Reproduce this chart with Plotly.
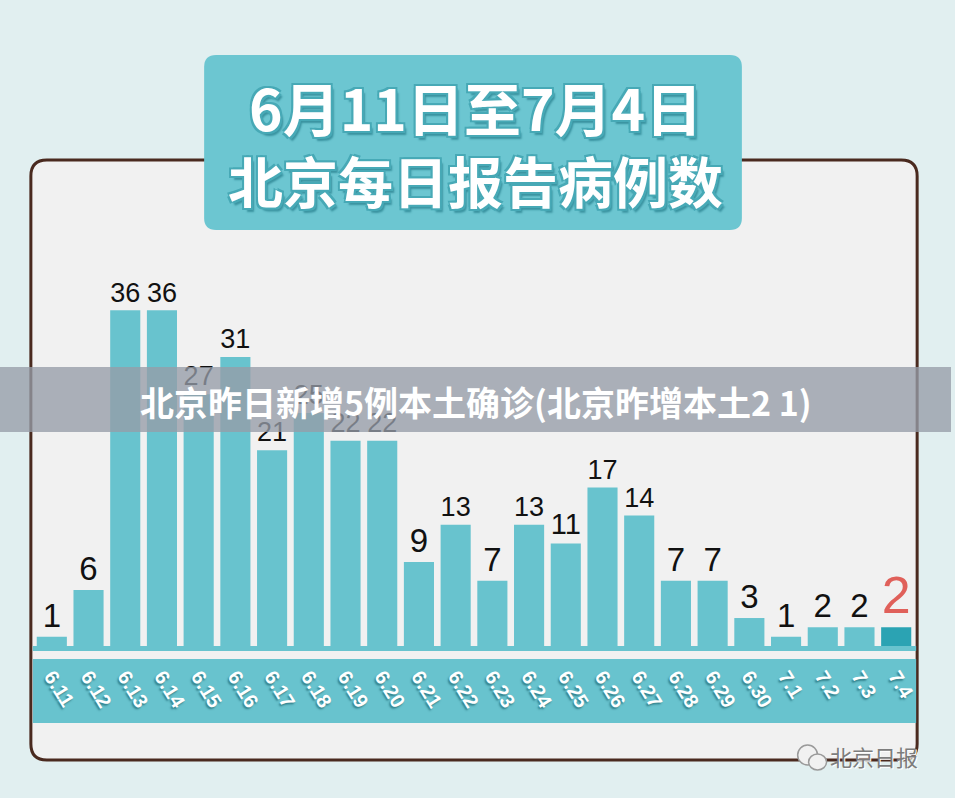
import plotly.graph_objects as go

# 北京每日报告病例数 6.11 - 7.4
dates = ["6.11", "6.12", "6.13", "6.14", "6.15", "6.16", "6.17", "6.18",
         "6.19", "6.20", "6.21", "6.22", "6.23", "6.24", "6.25", "6.26",
         "6.27", "6.28", "6.29", "6.30", "7.1", "7.2", "7.3", "7.4"]
cases = [1, 6, 36, 36, 27, 31, 21, 25, 22, 22, 9, 13, 7, 13, 11, 17,
         14, 7, 7, 3, 1, 2, 2, 2]

title1 = "6月11日至7月4日"
title2 = "北京每日报告病例数"
banner = "北京昨日新增5例本土确诊(北京昨增本土2 1)"
source = "北京日报"

W, H = 955, 798
teal = "#68c3ce"


def px(x):
    return x / W


def py(y):
    return 1 - y / H


def rrect(x0, y0, x1, y1, r):
    # rounded rectangle path in paper coords, given pixel box
    p = "M %f,%f " % (px(x0 + r), py(y0))
    p += "L %f,%f " % (px(x1 - r), py(y0))
    p += "Q %f,%f %f,%f " % (px(x1), py(y0), px(x1), py(y0 + r))
    p += "L %f,%f " % (px(x1), py(y1 - r))
    p += "Q %f,%f %f,%f " % (px(x1), py(y1), px(x1 - r), py(y1))
    p += "L %f,%f " % (px(x0 + r), py(y1))
    p += "Q %f,%f %f,%f " % (px(x0), py(y1), px(x0), py(y1 - r))
    p += "L %f,%f " % (px(x0), py(y0 + r))
    p += "Q %f,%f %f,%f Z" % (px(x0), py(y0), px(x0 + r), py(y0))
    return p


colors = [teal] * (len(cases) - 1) + ["#2ba3b3"]
txt_colors = ["#111111"] * (len(cases) - 1) + ["#e0605a"]
txt_sizes = [33] * (len(cases) - 1) + [52]

fig = go.Figure()
fig.add_trace(go.Bar(x=dates, y=cases, text=[str(v) for v in cases],
                     textposition="outside", cliponaxis=False,
                     marker=dict(color=colors, line=dict(width=0)),
                     textfont=dict(color=txt_colors, size=txt_sizes,
                                   family="Liberation Sans, Arial"),
                     width=0.82, hoverinfo="x+y"))

shapes = []
# panel
shapes.append(dict(type="path", path=rrect(31, 160, 921, 760, 16), xref="paper", yref="paper",
                   fillcolor="#f1f1f1", line=dict(color="#4a2a1f", width=3), layer="below"))
# title box
shapes.append(dict(type="path", path=rrect(205, 55, 745, 230, 12), xref="paper", yref="paper",
                   fillcolor="#6cc6d1", line=dict(width=0), layer="below"))
# baseline strip and date band
shapes.append(dict(type="rect", x0=px(33), x1=px(920), y0=py(646), y1=py(651), xref="paper", yref="paper",
                   fillcolor=teal, line=dict(width=0), layer="below"))
shapes.append(dict(type="rect", x0=px(33), x1=px(920), y0=py(659), y1=py(723), xref="paper", yref="paper",
                   fillcolor=teal, line=dict(width=0), layer="below"))
# wechat-like logo next to the source
shapes.append(dict(type="circle", x0=px(801), x1=px(821), y0=py(745), y1=py(765), xref="paper", yref="paper",
                   fillcolor="#f1f1f1", line=dict(color="#9a9a9a", width=1.5), layer="below"))
shapes.append(dict(type="circle", x0=px(812), x1=px(830), y0=py(754), y1=py(770), xref="paper", yref="paper",
                   fillcolor="#f1f1f1", line=dict(color="#9a9a9a", width=1.5), layer="below"))
# grey banner across the middle
shapes.append(dict(type="rect", x0=0, x1=1, y0=py(367), y1=py(432), xref="paper", yref="paper",
                   fillcolor="rgba(150,156,168,0.78)", line=dict(width=0), layer="above"))

title_shadow = ("-2px -2px 0 #47a9b6, 2px -2px 0 #47a9b6, -2px 2px 0 #47a9b6, "
                "2px 2px 0 #47a9b6, 3px 4px 2px #3a93a0")
annotations = [
    dict(text=title1, x=0.5, y=py(106), xref="paper", yref="paper", showarrow=False,
         xanchor="center", yanchor="middle",
         font=dict(family="Noto Sans CJK SC", size=57, color="white", weight="bold",
                   shadow=title_shadow)),
    dict(text=title2, x=0.5, y=py(179), xref="paper", yref="paper", showarrow=False,
         xanchor="center", yanchor="middle",
         font=dict(family="Noto Sans CJK SC", size=55, color="white", weight="bold",
                   shadow=title_shadow)),
    dict(text=banner, x=px(478), y=py(401), xref="paper", yref="paper", showarrow=False,
         xanchor="center", yanchor="middle",
         font=dict(family="Noto Sans CJK SC", size=34, color="white", weight="bold")),
    dict(text=source, x=px(878), y=py(756), xref="paper", yref="paper", showarrow=False,
         xanchor="center", yanchor="middle",
         font=dict(family="Noto Sans CJK SC", size=22, color="#7d7d7d",
                   shadow="1px 1px 0 #ffffff")),
]

fig.update_layout(
    width=W, height=H,
    margin=dict(l=0, r=0, t=0, b=0),
    paper_bgcolor="#e1eff0",
    plot_bgcolor="rgba(0,0,0,0)",
    showlegend=False,
    bargap=0.18,
    shapes=shapes,
    annotations=annotations,
    xaxis=dict(domain=[px(33.6), px(918.4)], showgrid=False, zeroline=False,
               showline=False, ticks="", tickangle=58, ticklabelstandoff=14,
               tickfont=dict(family="Liberation Sans, Arial", size=20, color="white",
                             weight="bold", shadow="1px 2px 2px rgba(0,70,80,0.55)")),
    yaxis=dict(domain=[py(646), py(273)], range=[0, 40], visible=False),
)

fig.write_html("out.html", config={"displayModeBar": False},
               post_script="document.body.style.margin='0';document.body.style.overflow='hidden';")
